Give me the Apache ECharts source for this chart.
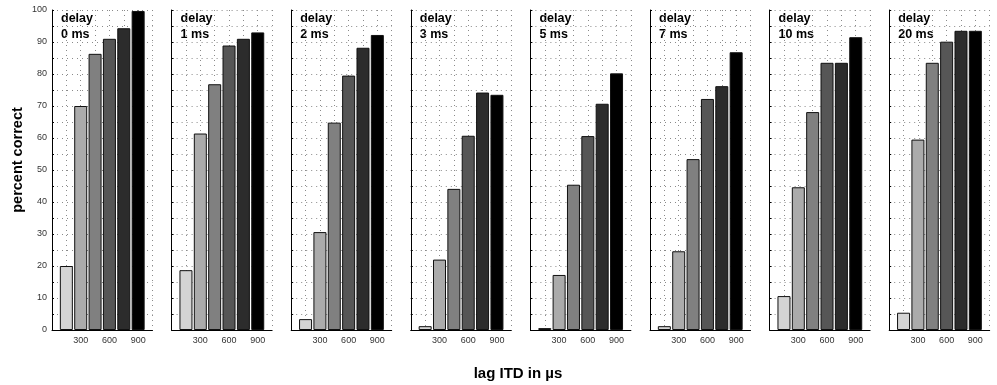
<!DOCTYPE html>
<html>
<head>
<meta charset="utf-8">
<script src="https://cdn.jsdelivr.net/npm/echarts@6/dist/echarts.min.js"></script>
<style>
  html, body { margin: 0; padding: 0; background: #fff; }
  #chart { width: 997px; height: 385px; }
</style>
</head>
<body>
<div id="chart"></div>
<script>
// lag ITD values (µs) for the six bars in each panel
const itds = [150, 300, 450, 600, 750, 900];
const delays = ['0 ms', '1 ms', '2 ms', '3 ms', '5 ms', '7 ms', '10 ms', '20 ms'];
const xTickLabels = [300, 600, 900];

// percent correct per delay, one value per ITD
const delay0 = [20, 70, 86.3, 91, 94.3, 99.7];
const delay1 = [18.7, 61.4, 76.8, 88.9, 91, 93];
const delay2 = [3.4, 30.6, 64.8, 79.5, 88.2, 92.2];
const delay3 = [1.2, 22, 44.1, 60.7, 74.2, 73.5];
const delay5 = [0.6, 17.2, 45.4, 60.6, 70.7, 80.2];
const delay7 = [1.2, 24.6, 53.4, 72.2, 76.2, 86.8];
const delay10 = [10.6, 44.6, 68.1, 83.5, 83.5, 91.5];
const delay20 = [5.4, 59.5, 83.5, 90.1, 93.5, 93.5];
const panels = [delay0, delay1, delay2, delay3, delay5, delay7, delay10, delay20];

const shades = ['#d4d4d4', '#ababab', '#808080', '#565656', '#2c2c2c', '#000000'];

const dotted = { color: '#8a8a8a', width: 1, type: [1, 4] };
const panelLeft = 52;
const panelStep = 119.6;
const panelWidth = 100.5;

const grid = [], xAxis = [], yAxis = [], series = [], graphic = [];

panels.forEach((vals, i) => {
    const left = panelLeft + i * panelStep;
    grid.push({ left: left, top: 10, width: panelWidth, height: 320 });
    xAxis.push({
        type: 'value', gridIndex: i, min: 0, max: 1050, interval: 150,
        axisLine: { show: true, lineStyle: { color: '#000', width: 1 } },
        axisTick: { show: false },
        axisLabel: {
            color: '#333', fontSize: 9, fontFamily: 'Liberation Sans', margin: 6,
            formatter: (v) => xTickLabels.includes(v) ? String(v) : ''
        },
        splitLine: { show: true, lineStyle: dotted }
    });
    yAxis.push({
        type: 'value', gridIndex: i, min: 0, max: 100, interval: 5,
        axisLine: { show: true, lineStyle: { color: '#000', width: 1 } },
        axisTick: { show: true, inside: true, length: 2, lineStyle: { color: '#000' } },
        axisLabel: {
            show: i === 0, color: '#333', fontSize: 9, fontFamily: 'Liberation Sans', margin: 5,
            formatter: (v) => v % 10 === 0 ? String(v) : ''
        },
        splitLine: { show: true, lineStyle: dotted }
    });
    series.push({
        type: 'bar', xAxisIndex: i, yAxisIndex: i, barWidth: 13,
        data: vals.map((v, j) => ({
            value: [itds[j], v],
            itemStyle: { color: shades[j], borderColor: '#111', borderWidth: 1 }
        }))
    });
    graphic.push({
        type: 'text', left: left + 9, top: 11,
        style: {
            text: 'delay\n' + delays[i], fill: '#000', lineHeight: 16,
            font: 'bold 12.5px "Liberation Sans", Arial, sans-serif'
        }
    });
});

graphic.push({
    type: 'text', x: 18, y: 160, rotation: Math.PI / 2,
    style: {
        text: 'percent correct', fill: '#000', align: 'center', verticalAlign: 'middle',
        font: 'bold 14.5px "Liberation Sans", Arial, sans-serif'
    }
});
graphic.push({
    type: 'text', x: 518, y: 374,
    style: {
        text: 'lag ITD in µs', fill: '#000', align: 'center', verticalAlign: 'middle',
        font: 'bold 15px "Liberation Sans", Arial, sans-serif'
    }
});

const chart = echarts.init(document.getElementById('chart'));
chart.setOption({
    animation: false,
    grid, xAxis, yAxis, series, graphic
});
</script>
</body>
</html>
